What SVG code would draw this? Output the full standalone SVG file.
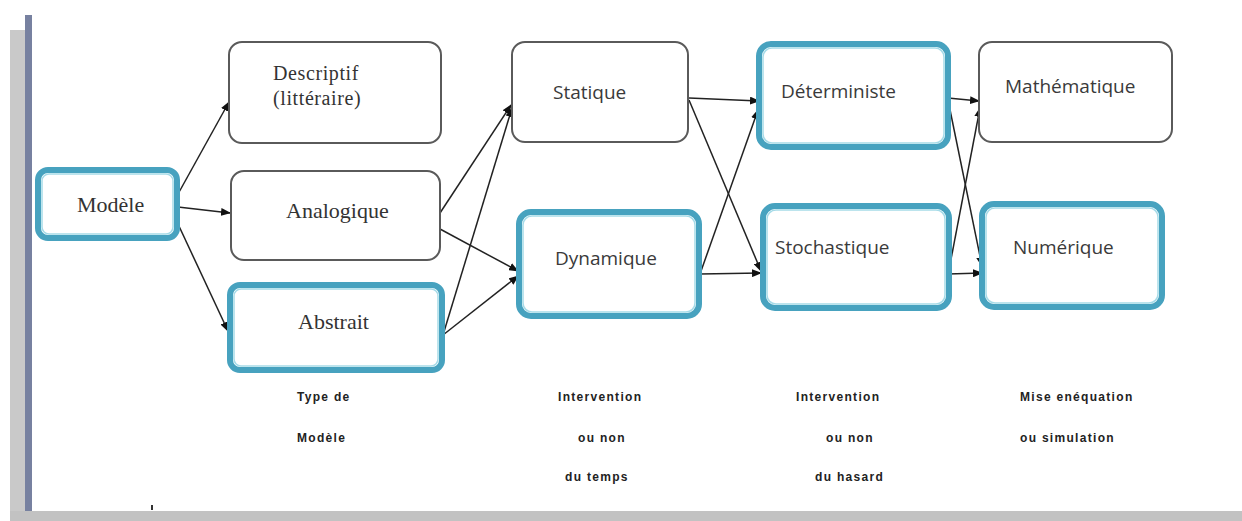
<svg xmlns="http://www.w3.org/2000/svg" width="1242" height="521" viewBox="0 0 1242 521">
<style>
.gray{fill:#fff;stroke:#5a5a5a;stroke-width:2}
.blue{fill:#fff;stroke:#47a2bf;stroke-width:6}
.blin{fill:none;stroke:#a6dbe8;stroke-width:1.5}
.serif{font-family:"Liberation Serif","Times New Roman",serif;font-size:22px;fill:#333}
.small{font-size:20px;letter-spacing:0.6px}
.sans{font-family:"Open Sans","Liberation Sans",sans-serif;font-size:19px;fill:#3a3a3a}
.lab{font-family:"Liberation Sans",Arial,sans-serif;font-size:12px;font-weight:bold;fill:#222;letter-spacing:1.3px}
.con{stroke:#222;stroke-width:1.5;fill:none;marker-end:url(#ah)}
</style>
<defs>
<marker id="ah" markerWidth="10" markerHeight="8" refX="9" refY="4" orient="auto" markerUnits="userSpaceOnUse">
<path d="M0,0 L10,4 L0,8 Z" fill="#111"/>
</marker>
</defs>
<rect width="1242" height="521" fill="#fff"/>
<g id="frame">
<rect x="10" y="30" width="16" height="482" fill="#c9c9c9"/>
<rect x="25" y="15" width="7" height="496" fill="#7781a0"/>
<rect x="10" y="511" width="1232" height="10" fill="#c2c2c2"/>
<rect x="151" y="505" width="2" height="5" fill="#333"/>
</g>
<g id="connectors">
<line class="con" x1="178" y1="194" x2="229" y2="102"/>
<line class="con" x1="178" y1="207" x2="230" y2="213"/>
<line class="con" x1="178" y1="224" x2="228" y2="331"/>
<line class="con" x1="440" y1="213" x2="511" y2="105"/>
<line class="con" x1="443" y1="335" x2="512" y2="108"/>
<line class="con" x1="440" y1="229" x2="518" y2="271"/>
<line class="con" x1="443" y1="335" x2="518" y2="276"/>
<line class="con" x1="689" y1="98" x2="759" y2="101"/>
<line class="con" x1="689" y1="100" x2="761" y2="271"/>
<line class="con" x1="700" y1="274" x2="758" y2="110"/>
<line class="con" x1="700" y1="274" x2="761" y2="273"/>
<line class="con" x1="948" y1="98" x2="979" y2="101"/>
<line class="con" x1="948" y1="100" x2="982" y2="266"/>
<line class="con" x1="948" y1="275" x2="980" y2="108"/>
<line class="con" x1="948" y1="274" x2="982" y2="273"/>
</g>
<g id="modele">
<rect class="blue" x="38" y="170" width="139" height="68" rx="10"/>
<rect class="blin" x="42" y="174" width="131" height="60" rx="7"/>
<text class="serif" x="77" y="212">Modèle</text>
</g>
<g id="descriptif">
<rect class="gray" x="229" y="42" width="212" height="101" rx="13"/>
<text class="serif small" x="273" y="80">Descriptif</text>
<text class="serif small" x="273" y="105">(littéraire)</text>
</g>
<g id="analogique">
<rect class="gray" x="231" y="171" width="209" height="89" rx="13"/>
<text class="serif" x="286" y="218">Analogique</text>
</g>
<g id="abstrait">
<rect class="blue" x="230" y="285" width="212" height="85" rx="10"/>
<rect class="blin" x="234" y="289" width="204" height="77" rx="7"/>
<text class="serif" x="298" y="329">Abstrait</text>
</g>
<g id="statique">
<rect class="gray" x="512" y="42" width="176" height="100" rx="13"/>
<text class="sans" x="553" y="99">Statique</text>
</g>
<g id="dynamique">
<rect class="blue" x="519" y="212" width="180" height="104" rx="12"/>
<rect class="blin" x="523" y="216" width="172" height="96" rx="9"/>
<text class="sans" x="555" y="265">Dynamique</text>
</g>
<g id="deterministe">
<rect class="blue" x="759" y="44" width="189" height="103" rx="12"/>
<rect class="blin" x="763" y="48" width="181" height="95" rx="9"/>
<text class="sans" x="781" y="98">Déterministe</text>
</g>
<g id="stochastique">
<rect class="blue" x="763" y="206" width="186" height="102" rx="12"/>
<rect class="blin" x="767" y="210" width="178" height="94" rx="9"/>
<text class="sans" x="775" y="254">Stochastique</text>
</g>
<g id="mathematique">
<rect class="gray" x="979" y="42" width="193" height="100" rx="13"/>
<text class="sans" x="1005" y="93">Mathématique</text>
</g>
<g id="numerique">
<rect class="blue" x="982" y="204" width="180" height="103" rx="12"/>
<rect class="blin" x="986" y="208" width="172" height="95" rx="9"/>
<text class="sans" x="1013" y="254">Numérique</text>
</g>
<g id="labels">
<text class="lab" x="297" y="401">Type de</text>
<text class="lab" x="297" y="442">Modèle</text>
<text class="lab" x="558" y="401">Intervention</text>
<text class="lab" x="578" y="442">ou non</text>
<text class="lab" x="565" y="481">du temps</text>
<text class="lab" x="796" y="401">Intervention</text>
<text class="lab" x="826" y="442">ou non</text>
<text class="lab" x="815" y="481">du hasard</text>
<text class="lab" x="1020" y="401">Mise enéquation</text>
<text class="lab" x="1020" y="442">ou simulation</text>
</g>
</svg>
